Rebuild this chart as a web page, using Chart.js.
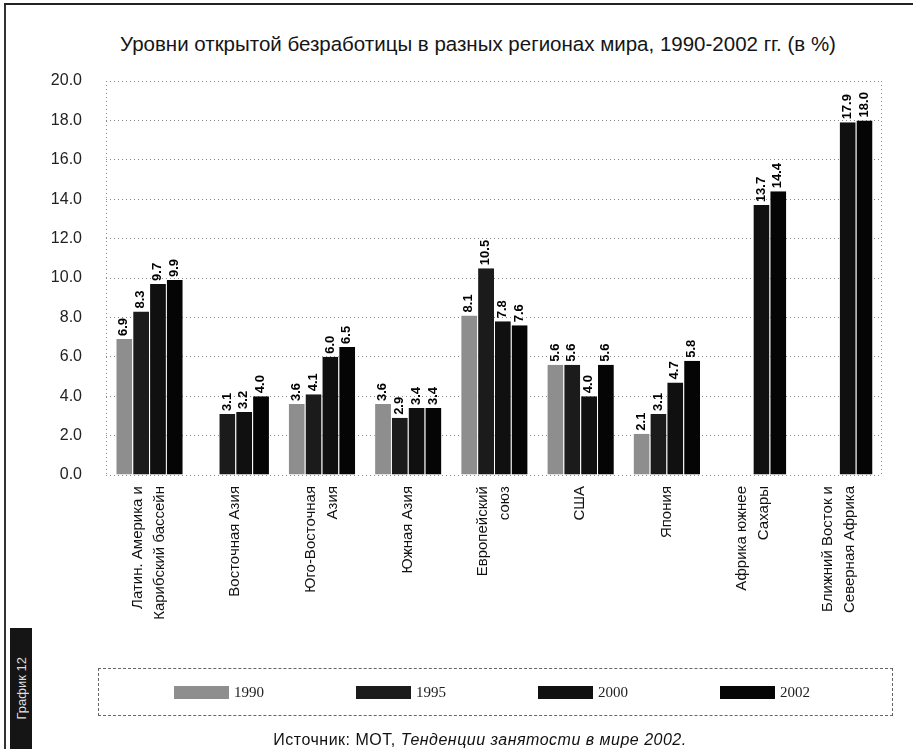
<!DOCTYPE html>
<html lang="ru">
<head>
<meta charset="utf-8">
<title>Уровни открытой безработицы</title>
<script src="https://cdn.jsdelivr.net/npm/chart.js@4"></script>
<style>
  body { margin: 0; background: #fff; }
  #page { position: relative; width: 913px; height: 749px; overflow: hidden; font-family: 'Liberation Sans', Arial, sans-serif; }
  #chartBox { position: absolute; left: 0; top: 0; width: 913px; height: 749px; }
  .frame-left { position: absolute; left: 4px; top: 3px; width: 2px; height: 746px; background: #333; }
  .frame-top { position: absolute; left: 4px; top: 3px; width: 909px; height: 2px; background: #222; }
  #title { position: absolute; left: 0; width: 956px; top: 32px; text-align: center; font: 20.5px 'Liberation Sans', Arial, sans-serif; color: #151515; white-space: nowrap; }
  #legend { position: absolute; left: 98px; top: 668px; width: 795px; height: 48px; border: 1px dashed #666; box-sizing: border-box; display: flex; align-items: center; padding-left: 75px; }
  .item { display: flex; align-items: center; margin-right: 92px; font: 15px 'Liberation Serif', serif; color: #222; }
  .swatch { width: 55px; height: 13px; margin-right: 5px; }
  #source { position: absolute; left: 0; width: 960px; text-align: center; top: 731px; font: 16px 'Liberation Sans', Arial, sans-serif; letter-spacing: 0.5px; color: #111; white-space: nowrap; }
  #source i { font-style: italic; }
  #tag { position: absolute; left: 10px; top: 628px; width: 22px; height: 121px; background: #151515; color: #ddd; font: 13px 'Liberation Sans', Arial, sans-serif; display: flex; align-items: center; justify-content: center; }
  #tag span { writing-mode: vertical-rl; transform: rotate(180deg); white-space: nowrap; }
</style>
</head>
<body>
<div id="page">
  <div class="frame-left"></div>
  <div class="frame-top"></div>
  <div id="title"></div>
  <div id="chartBox"><canvas id="unemploymentChart"></canvas></div>
  <div id="legend"></div>
  <div id="source">Источник: МОТ, <i>Тенденции занятости в мире 2002.</i></div>
  <div id="tag"><span>График 12</span></div>
</div>
<script>
const chartTitle = 'Уровни открытой безработицы в разных регионах мира, 1990-2002 гг. (в %)';

const regions = [
    ['Латин. Америка и', 'Карибский бассейн'],
    ['Восточная Азия'],
    ['Юго-Восточная', 'Азия'],
    ['Южная Азия'],
    ['Европейский', 'союз'],
    ['США'],
    ['Япония'],
    ['Африка южнее', 'Сахары'],
    ['Ближний Восток и', 'Северная Африка']
];

const years = ['1990', '1995', '2000', '2002'];

const rate1990 = [6.9, null, 3.6, 3.6, 8.1, 5.6, 2.1, null, null];
const rate1995 = [8.3, 3.1, 4.1, 2.9, 10.5, 5.6, 3.1, null, null];
const rate2000 = [9.7, 3.2, 6.0, 3.4, 7.8, 4.0, 4.7, 13.7, 17.9];
const rate2002 = [9.9, 4.0, 6.5, 3.4, 7.6, 5.6, 5.8, 14.4, 18.0];

const yearColors = ['#8e8e8e', '#1b1b1b', '#101010', '#050505'];

document.addEventListener('DOMContentLoaded', () => {
    document.getElementById('title').textContent = chartTitle;
    drawChart();
});

// rotated value above each bar
const valueLabels = {
    id: 'valueLabels',
    afterDatasetsDraw(chart) {
        const ctx = chart.ctx;
        ctx.save();
        ctx.font = 'bold 13px "Liberation Sans", Arial, sans-serif';
        ctx.fillStyle = '#000';
        ctx.textAlign = 'left';
        ctx.textBaseline = 'middle';
        chart.data.datasets.forEach((ds, i) => {
            chart.getDatasetMeta(i).data.forEach((bar, j) => {
                const v = ds.data[j];
                if (v == null) return;
                ctx.save();
                ctx.translate(bar.x, bar.y - 3);
                ctx.rotate(-Math.PI / 2);
                ctx.fillText(v.toFixed(1), 0, 0);
                ctx.restore();
            });
        });
        ctx.restore();
    }
};

// region names, rotated, lines centred on the tick
const regionLabels = {
    id: 'regionLabels',
    afterDraw(chart) {
        const { ctx, chartArea } = chart;
        const xScale = chart.scales.x;
        const lineGap = 22;
        ctx.save();
        ctx.font = '15px "Liberation Sans", Arial, sans-serif';
        ctx.fillStyle = '#111';
        ctx.textAlign = 'right';
        ctx.textBaseline = 'middle';
        regions.forEach((lines, i) => {
            const cx = xScale.getPixelForValue(i);
            lines.forEach((line, k) => {
                const x = cx + (k - (lines.length - 1) / 2) * lineGap;
                ctx.save();
                ctx.translate(x, chartArea.bottom + 11);
                ctx.rotate(-Math.PI / 2);
                ctx.fillText(line, 0, 0);
                ctx.restore();
            });
        });
        ctx.restore();
    }
};

// dotted side borders of the plot
const plotFrame = {
    id: 'plotFrame',
    beforeDatasetsDraw(chart) {
        const { ctx, chartArea } = chart;
        ctx.save();
        ctx.strokeStyle = '#8a8a8a';
        ctx.setLineDash([1, 3]);
        ctx.lineWidth = 1;
        ctx.beginPath();
        ctx.moveTo(chartArea.left + 0.5, chartArea.top);
        ctx.lineTo(chartArea.left + 0.5, chartArea.bottom);
        ctx.moveTo(chartArea.right - 0.5, chartArea.top);
        ctx.lineTo(chartArea.right - 0.5, chartArea.bottom);
        ctx.stroke();
        ctx.restore();
    }
};

function drawChart() {
    const series = [rate1990, rate1995, rate2000, rate2002];
    const datasets = years.map((year, i) => ({
        label: year,
        data: series[i],
        backgroundColor: yearColors[i],
        borderColor: 'rgba(255,255,255,0.5)',
        borderWidth: { left: 1, right: 0, top: 0, bottom: 0 },
        borderSkipped: false,
        barPercentage: 1.0,
        categoryPercentage: 0.78
    }));

    const ctx = document.getElementById('unemploymentChart').getContext('2d');
    new Chart(ctx, {
        type: 'bar',
        data: {
            labels: regions.map(r => r.join(' ')),
            datasets: datasets
        },
        plugins: [valueLabels, regionLabels, plotFrame],
        options: {
            responsive: true,
            maintainAspectRatio: false,
            animation: false,
            layout: {
                padding: { left: 10, right: 31, top: 81, bottom: 109 }
            },
            plugins: {
                legend: { display: false },
                tooltip: { enabled: false },
                title: { display: false }
            },
            scales: {
                x: {
                    grid: { display: false },
                    border: { display: false },
                    afterFit: scale => { scale.height = 165; },
                    ticks: { display: false }
                },
                y: {
                    min: 0,
                    max: 20,
                    afterFit: scale => { scale.width = 96; },
                    grid: {
                        color: '#8a8a8a',
                        lineWidth: 1,
                        drawTicks: false
                    },
                    border: { display: false, dash: [1, 3] },
                    ticks: {
                        stepSize: 2,
                        padding: 24,
                        color: '#222',
                        font: { family: '"Liberation Sans", Arial, sans-serif', size: 16 },
                        callback: v => Number(v).toFixed(1)
                    }
                }
            }
        }
    });

    const legend = document.getElementById('legend');
    datasets.forEach(ds => {
        const item = document.createElement('div');
        item.className = 'item';
        item.innerHTML = `<span class="swatch" style="background:${ds.backgroundColor}"></span><span>${ds.label}</span>`;
        legend.appendChild(item);
    });
}
</script>
</body>
</html>
